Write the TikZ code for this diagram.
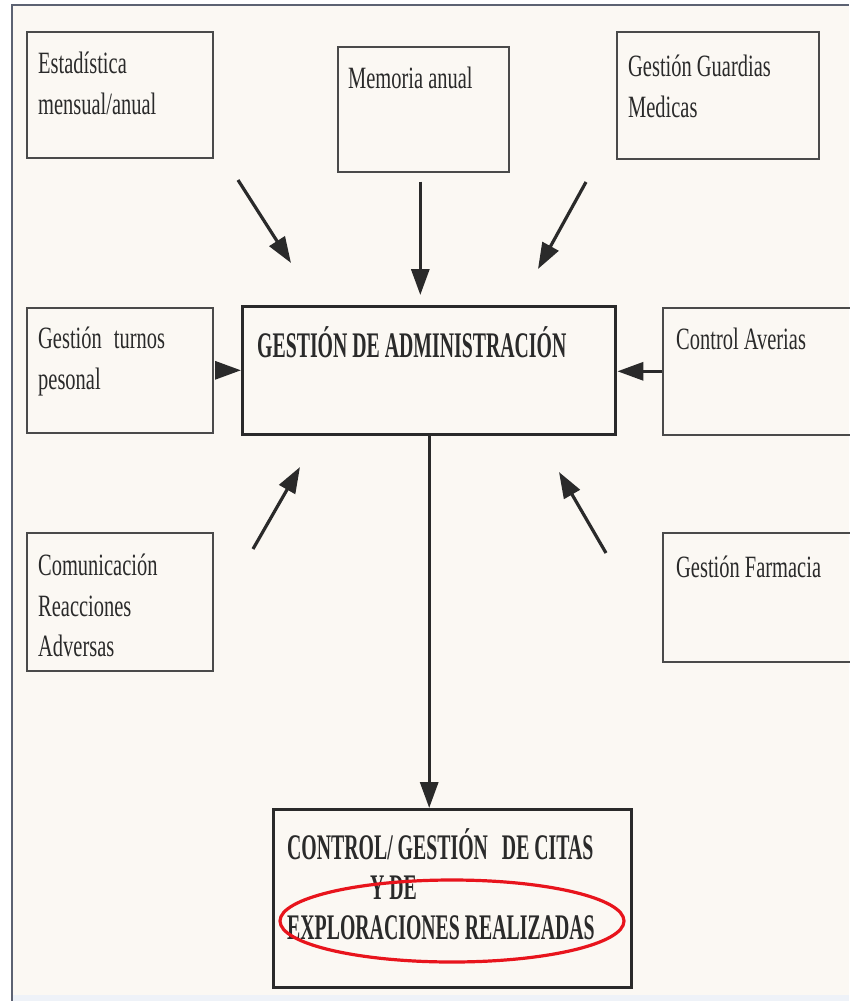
\documentclass[tikz,border=0pt]{standalone}
\usepackage{fontspec}
\setmainfont{Liberation Serif}[FakeStretch=0.66]
\newfontfamily\headfont{Liberation Serif}[FakeStretch=0.55]
\usetikzlibrary{arrows.meta}

\definecolor{paper}{HTML}{FBF8F3}
\definecolor{framecol}{HTML}{5C6272}
\definecolor{strip}{HTML}{EEF2F8}
\definecolor{ink}{HTML}{2A2A2A}
\definecolor{boxline}{HTML}{4A4A4A}
\definecolor{hlred}{HTML}{E8141C}

\tikzset{
  smallbox/.style={draw=boxline, line width=1.6pt, inner sep=0pt, anchor=north west},
  mainbox/.style={draw=ink, line width=3.4pt, inner sep=0pt, anchor=north west},
  boxlabel/.style={anchor=north west, inner sep=0pt, align=left, text=ink,
    font=\fontsize{31}{40.5}\selectfont},
  headlabel/.style={anchor=north west, inner sep=0pt, align=left, text=ink,
    font=\headfont\bfseries\fontsize{36}{40}\selectfont},
  flow/.style={draw=ink, line width=3.2pt,
    -{Triangle[length=26pt, width=18pt]}},
}

\begin{document}
\begin{tikzpicture}[x=1pt, y=-1pt]
  \useasboundingbox (0,0) rectangle (849,1001);

  % sheet and frame
  \fill[white] (0,0) rectangle (849,1001);
  \fill[paper] (12,5) rectangle (849,995);
  \fill[strip] (12,995) rectangle (849,1001);
  \draw[framecol, line width=2.2pt] (12,1001) -- (12,5) -- (849,5);

  % boxes
  \node[smallbox, minimum width=186pt, minimum height=126pt] (est) at (26,31) {};
  \node[smallbox, minimum width=171pt, minimum height=125pt] (mem) at (337,46) {};
  \node[smallbox, minimum width=202pt, minimum height=127pt] (gua) at (616,31) {};
  \node[smallbox, minimum width=186pt, minimum height=125pt] (tur) at (26,307) {};
  \node[mainbox,  minimum width=373pt, minimum height=128pt] (adm) at (241,305) {};
  \node[smallbox, minimum width=190pt, minimum height=127pt] (ave) at (662,307) {};
  \node[smallbox, minimum width=186pt, minimum height=138pt] (com) at (26,532) {};
  \node[smallbox, minimum width=190pt, minimum height=129pt] (far) at (662,532) {};
  \node[mainbox,  minimum width=358pt, minimum height=178pt] (cit) at (272,808) {};

  % box texts
  \node[boxlabel] (estT) at (38,52) {Estadística\\mensual/anual};
  \node[boxlabel] (memT) at (348,67) {Memoria anual};
  \node[boxlabel] (guaT) at (628,55) {Gestión Guardias\\Medicas};
  \node[boxlabel] (turT) at (38,327) {Gestión\hspace{12pt}turnos\\pesonal};
  \node[boxlabel] (aveT) at (676,328) {Control Averias};
  \node[boxlabel] (comT) at (38,554) {Comunicación\\Reacciones\\Adversas};
  \node[boxlabel] (farT) at (676,556) {Gestión Farmacia};
  \node[headlabel] (admT) at (257,326) {GESTIÓN DE ADMINISTRACIÓN};
  \node[headlabel] (citT) at (287,828) {CONTROL/ GESTIÓN\hspace{14pt}DE CITAS\\
    \hspace{83pt}Y DE\\EXPLORACIONES REALIZADAS};

  % highlight
  \draw[hlred, line width=3.2pt] (452,921) ellipse [x radius=172pt, y radius=41pt];

  % free ends of the diagonal arrows
  \coordinate (estS) at (238,180);
  \coordinate (estE) at (291,263);
  \coordinate (guaS) at (586,182);
  \coordinate (guaE) at (538,269);
  \coordinate (comS) at (253,549);
  \coordinate (comE) at (300,467);
  \coordinate (farS) at (606,553);
  \coordinate (farE) at (559,472);

  % connectors
  \draw[flow] (estS) -- (estE);
  \draw[flow] (guaS) -- (guaE);
  \draw[flow] (comS) -- (comE);
  \draw[flow] (farS) -- (farE);
  \draw[flow, shorten <=9pt, shorten >=10pt] ([xshift=-3pt]mem.south) -- ([xshift=-3pt]mem.south |- adm.north);
  \draw[flow, shorten <=1pt] (tur.east) -- (tur.east -| adm.west);
  \draw[flow] (ave.west) -- (ave.west -| adm.east);
  \draw[flow] (adm.south) -- (adm.south |- cit.north);
\end{tikzpicture}
\end{document}
